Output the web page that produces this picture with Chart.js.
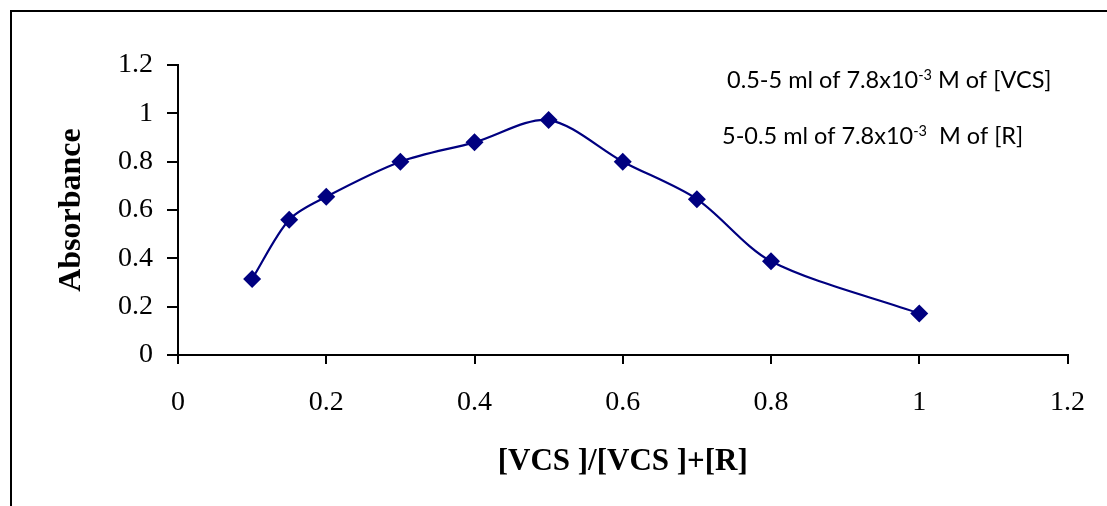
<!DOCTYPE html>
<html>
<head>
<meta charset="utf-8">
<script src="https://cdn.jsdelivr.net/npm/chart.js@4/dist/chart.umd.min.js"></script>
<style>
  html, body { margin: 0; padding: 0; background: #fff; }
  #wrap { position: relative; width: 1107px; height: 506px; overflow: hidden; }
  #frame { position: absolute; left: 10px; top: 10px; width: 1200px; height: 600px;
           border-left: 2px solid #000; border-top: 2px solid #000; box-sizing: border-box; }
  canvas { position: absolute; left: 0; top: 0; }
</style>
</head>
<body>
<div id="wrap">
  <div id="frame"></div>
  <canvas id="c" width="1107" height="506"></canvas>
</div>
<script>
// ---- data ----
const ratio = [0.1, 0.15, 0.2, 0.3, 0.4, 0.5, 0.6, 0.7, 0.8, 1.0];
const absorbance = [0.315, 0.56, 0.655, 0.80, 0.88, 0.972, 0.80, 0.645, 0.388, 0.172];
const xTicks = [0, 0.2, 0.4, 0.6, 0.8, 1, 1.2];
const yTicks = [0, 0.2, 0.4, 0.6, 0.8, 1, 1.2];
const xTitle = '[VCS ]/[VCS ]+[R]';
const yTitle = 'Absorbance';
const note1 = ['0.5-5 ml of 7.8x10', '-3', ' M of [VCS]'];
const note2 = ['5-0.5 ml of 7.8x10', '-3', '  M of [R]'];

const serif = '"Liberation Serif", "Times New Roman", serif';
const noteFont = 'Lato, "Open Sans", sans-serif';

const notesPlugin = {
  id: 'notes',
  afterDraw(chart) {
    const ctx = chart.ctx;
    ctx.save();
    ctx.fillStyle = '#000';
    ctx.textBaseline = 'alphabetic';
    ctx.textAlign = 'left';
    const drawNote = (parts, x, y) => {
      ctx.font = '23.5px ' + noteFont;
      ctx.fillText(parts[0], x, y);
      x += ctx.measureText(parts[0]).width;
      ctx.font = '14.5px ' + noteFont;
      ctx.fillText(parts[1], x, y - 8);
      x += ctx.measureText(parts[1]).width;
      ctx.font = '23.5px ' + noteFont;
      ctx.fillText(parts[2], x, y);
    };
    drawNote(note1, 727, 88);
    drawNote(note2, 722, 144);
    ctx.restore();
  }
};

new Chart(document.getElementById('c'), {
  type: 'scatter',
  data: {
    datasets: [{
      data: ratio.map((x, i) => ({ x: x, y: absorbance[i] })),
      showLine: true,
      borderColor: '#000080',
      backgroundColor: '#000080',
      borderWidth: 2.2,
      tension: 0.3,
      pointStyle: 'rectRot',
      pointRadius: 9,
      pointHoverRadius: 9,
      pointBorderWidth: 0
    }]
  },
  options: {
    responsive: false,
    animation: false,
    layout: { padding: { left: 0, top: 65, right: 37, bottom: 0 } },
    plugins: { legend: { display: false }, tooltip: { enabled: false } },
    scales: {
      x: {
        type: 'linear', min: 0, max: 1.2,
        afterBuildTicks: s => { s.ticks = xTicks.map(v => ({ value: v })); },
        afterFit: s => { s.height = 151; },
        border: { display: true, color: '#000', width: 2 },
        grid: { display: true, drawOnChartArea: false, drawTicks: true, tickLength: 9, color: '#000', lineWidth: 2 },
        ticks: { color: '#000', font: { family: serif, size: 28 }, padding: 22, maxRotation: 0, callback: v => String(v) },
        title: { display: true, text: xTitle, color: '#000', font: { family: serif, size: 31, weight: 'bold' }, padding: { bottom: 25, top: 0 } }
      },
      y: {
        type: 'linear', min: 0, max: 1.2,
        afterBuildTicks: s => { s.ticks = yTicks.map(v => ({ value: v })); },
        afterFit: s => { s.width = 178; },
        border: { display: true, color: '#000', width: 2 },
        grid: { display: true, drawOnChartArea: false, drawTicks: true, tickLength: 11, color: '#000', lineWidth: 2 },
        ticks: { color: '#000', font: { family: serif, size: 28 }, padding: 14, callback: v => String(v) },
        title: { display: true, text: yTitle, color: '#000', font: { family: serif, size: 32, weight: 'bold' }, padding: { top: 53, bottom: 0 } }
      }
    }
  },
  plugins: [notesPlugin]
});
</script>
</body>
</html>
